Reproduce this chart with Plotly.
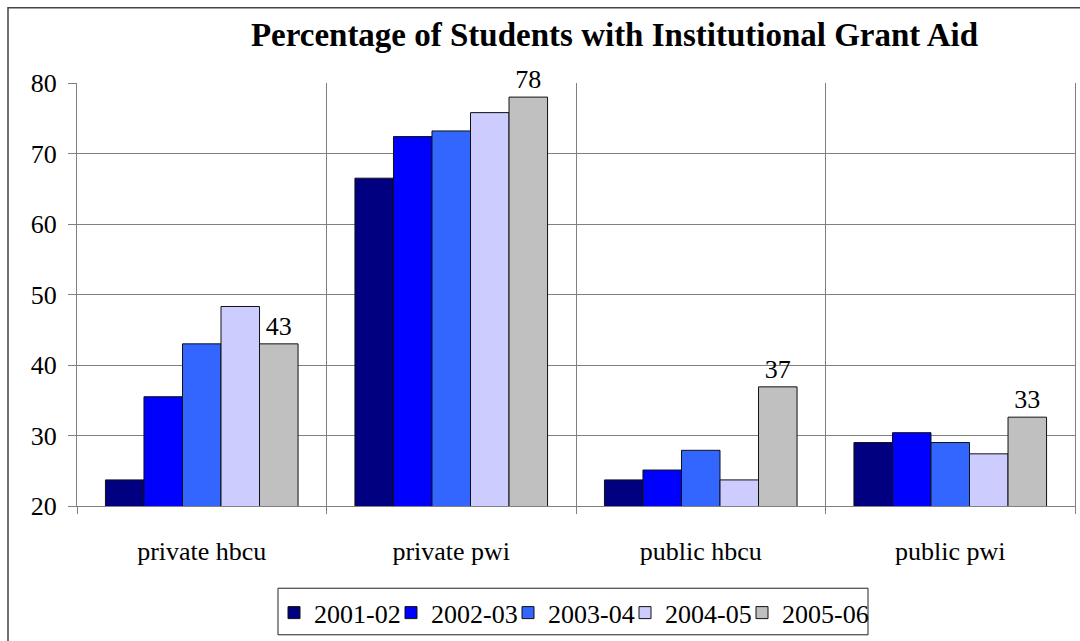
import plotly.graph_objects as go

categories = ["private hbcu", "private pwi", "public hbcu", "public pwi"]
years = ["2001-02", "2002-03", "2003-04", "2004-05", "2005-06"]
v_2001_02 = [23.7, 66.5, 23.7, 29.0]
v_2002_03 = [35.5, 72.4, 25.1, 30.4]
v_2003_04 = [43.0, 73.2, 27.9, 29.0]
v_2004_05 = [48.3, 75.8, 23.7, 27.4]
v_2005_06 = [43.0, 78.0, 36.9, 32.6]
series = [v_2001_02, v_2002_03, v_2003_04, v_2004_05, v_2005_06]
colors = ["#000080", "#0000FF", "#3366FF", "#CCCCFF", "#C0C0C0"]

FONT = "Liberation Serif"

# plot-area geometry in pixels (for decorations only)
L, R, T, B = 77, 5, 83, 131
W, H = 1080, 641
PW, PH = W - L - R, H - T - B


def px_x(px):
    return (px - L) / PW


def px_y(py):
    return (H - B - py) / PH


fig = go.Figure()
for i, (name, vals, col) in enumerate(zip(years, series, colors)):
    kw = {}
    if i == len(years) - 1:
        kw = dict(texttemplate="%{y:.0f}", textposition="outside",
                  textfont=dict(family=FONT, size=26, color="black"),
                  cliponaxis=False)
    fig.add_trace(go.Bar(
        x=categories, y=vals, name=name,
        marker=dict(color=col, line=dict(color="#111111", width=1)),
        **kw))

# invisible spacer entry so the last legend label is not clipped
fig.add_trace(go.Scatter(x=[None], y=[None], mode="lines", name=" ",
                         line=dict(width=0, color="rgba(0,0,0,0)"),
                         hoverinfo="skip"))

fig.update_layout(
    width=W, height=H,
    paper_bgcolor="white", plot_bgcolor="white",
    margin=dict(l=L, r=R, t=T, b=B),
    barmode="group", bargap=0.228, bargroupgap=0,
    font=dict(family=FONT, size=26, color="black"),
    title=dict(text="<b>Percentage of Students with Institutional Grant Aid</b>",
               font=dict(family=FONT, size=33, color="black"),
               x=0.569, xanchor="center", xref="container",
               y=0.947, yanchor="middle", yref="container"),
    legend=dict(orientation="h", x=px_x(274), xanchor="left", xref="paper",
                y=px_y(594), yanchor="top",
                bgcolor="rgba(0,0,0,0)", borderwidth=0,
                font=dict(family=FONT, size=26),
                itemwidth=30, tracegroupgap=0,
                entrywidth=72, entrywidthmode="pixels",
                itemclick=False, itemdoubleclick=False),
    showlegend=True,
)
fig.update_xaxes(
    type="category", tickson="boundaries",
    showgrid=True, gridcolor="#808080", gridwidth=1,
    showline=True, linecolor="#808080", linewidth=1,
    ticks="outside", ticklen=7, tickcolor="#808080",
    tickfont=dict(family=FONT, size=26, color="black"),
    ticklabelstandoff=22,
)
fig.update_yaxes(
    range=[20, 80], dtick=10, tick0=20,
    showgrid=True, gridcolor="#808080", gridwidth=1,
    showline=True, linecolor="#808080", linewidth=1, mirror=True,
    ticks="outside", ticklen=8, tickcolor="#808080",
    tickfont=dict(family=FONT, size=26, color="black"),
    ticklabelstandoff=6, zeroline=False,
)

# outer chart border (extends past right and bottom of the page)
fig.add_shape(type="rect", xref="paper", yref="paper",
              x0=px_x(8), x1=px_x(1090), y0=px_y(650), y1=px_y(7),
              line=dict(color="#444444", width=1.5), layer="below")
# legend frame
fig.add_shape(type="rect", xref="paper", yref="paper",
              x0=px_x(278), x1=px_x(868), y0=px_y(640), y1=px_y(593),
              line=dict(color="#222222", width=1), layer="below")

fig.write_html("out.html")
